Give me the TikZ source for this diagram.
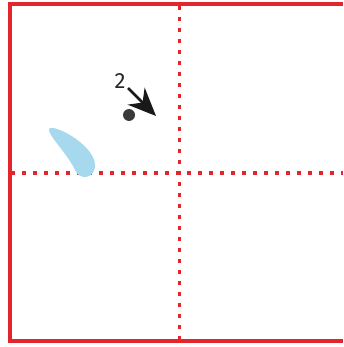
\documentclass[tikz,border=0pt]{standalone}
\usepackage{fontspec}
\setmainfont{Fira Sans}
\usepackage{xcolor}
\usepackage{tikz}
\usetikzlibrary{arrows.meta, positioning}
\definecolor{gridred}{HTML}{E3262B}
\definecolor{dropblue}{HTML}{A6D9EE}
\definecolor{inkgray}{HTML}{3A3A3A}
\tikzset{
  framebox/.style={gridred,line width=3.2pt},
  axisline/.style={gridred,line width=3pt,dash pattern=on 4pt off 7pt},
  dotnode/.style={circle,fill=inkgray,minimum size=12pt,inner sep=0pt},
  numlabel/.style={font=\fontsize{22}{24}\selectfont,inner sep=0pt,text=black!85},
  movearrow/.style={-{Stealth[length=28pt,width=24pt,inset=9pt]},line width=2.6pt,black!90},
}

\begin{document}
\begin{tikzpicture}[x=1pt,y=-1pt]
  \useasboundingbox (0,0) rectangle (343,347);
  % quadrant guides
  \draw[axisline] (179,6) -- (179,340);
  \draw[axisline] (11,173) -- (343,173);
  \draw[framebox] (343,4) -- (10,4) -- (10,341) -- (343,341);
  % drop
  \fill[dropblue] (49,129) .. controls (53,123) and (93,144) .. (95,164)
    .. controls (96,179) and (79,181) .. (75,170)
    .. controls (69,156) and (47,134) .. cycle;
  % ball and its move
  \node[dotnode] (ball) at (129,115) {};
  \node[numlabel] (lbl) at (120,81) {2};
  \coordinate (tail) at (128,88);
  \coordinate (head) at (156,116);
  \draw[movearrow] (tail) -- (head);
\end{tikzpicture}
\end{document}
